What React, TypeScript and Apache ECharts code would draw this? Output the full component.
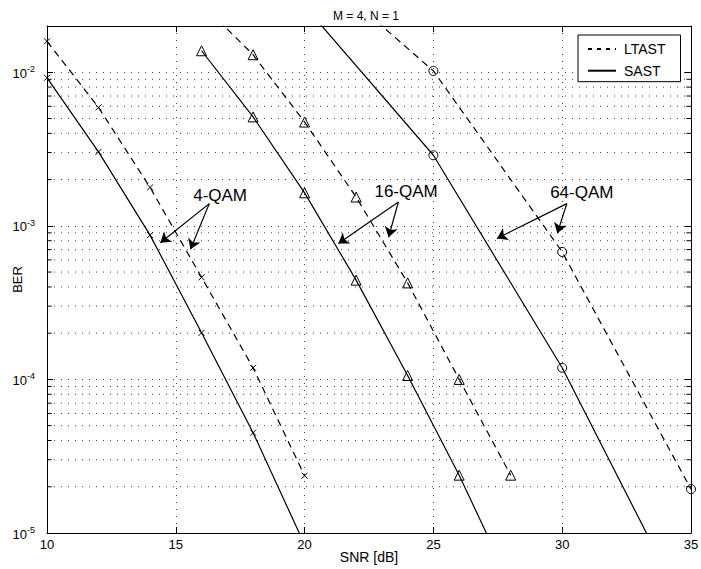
import React, { useEffect, useRef } from "react";
import * as echarts from "echarts";

const FONT = "'Liberation Sans', Arial, Helvetica, sans-serif";

// SNR [dB] grids
const snr4 = [10, 12, 14, 16, 18, 20];
const snr16 = [16, 18, 20, 22, 24, 26, 28];
const snr64 = [20, 25, 30, 35];

// BER values
const ltast4 = [0.0159, 0.0059, 1.78e-3, 4.62e-4, 1.19e-4, 2.36e-5];
const sast4 = [9.2e-3, 3.03e-3, 8.7e-4, 2.01e-4, 4.5e-5, 8.4e-6];
const ltast16 = [0.028, 0.013, 4.74e-3, 1.54e-3, 4.25e-4, 1.0e-4, 2.38e-5];
const sast16 = [0.0138, 5.12e-3, 1.64e-3, 4.43e-4, 1.06e-4, 2.38e-5, 4.6e-6];
const ltast64 = [0.055, 0.0102, 6.76e-4, 1.93e-5];
const sast64 = [0.027, 2.88e-3, 1.19e-4, 2.7e-6];

// axis ranges
const xMin = 10;
const xMax = 35;
const xStep = 5;
const yMin = 1e-5;
const yMax = 0.02;

// minor (2..9 per decade) grid values
const minorValues = [
  2e-5, 3e-5, 4e-5, 5e-5, 6e-5, 7e-5, 8e-5, 9e-5,
  2e-4, 3e-4, 4e-4, 5e-4, 6e-4, 7e-4, 8e-4, 9e-4,
  2e-3, 3e-3, 4e-3, 5e-3, 6e-3, 7e-3, 8e-3, 9e-3,
];

// annotation labels [snr, ber]
const labelNames = ["4-QAM", "16-QAM", "64-QAM"];
const labelPos: [number, number][] = [
  [16.72, 1.585e-3],
  [23.94, 1.667e-3],
  [30.76, 1.64e-3],
];
// arrows: from, to (data coords)
const arrowFrom: [number, number][] = [
  [16.3, 1.395e-3],
  [16.3, 1.395e-3],
  [23.64, 1.43e-3],
  [23.64, 1.43e-3],
  [30.18, 1.395e-3],
  [30.18, 1.395e-3],
];
const arrowTo: [number, number][] = [
  [14.4, 7.76e-4],
  [15.57, 7.03e-4],
  [21.31, 7.66e-4],
  [23.26, 8.43e-4],
  [27.47, 8.28e-4],
  [29.81, 8.95e-4],
];

const DASH = [7, 5];
const DOT = [1, 6];

function zip(xs: number[], ys: number[]) {
  return xs.map((x, i) => [x, ys[i]]);
}

export default function App() {
  const ref = useRef<HTMLDivElement>(null);

  useEffect(() => {
    document.body.style.margin = "0";
    if (!ref.current) return;
    const chart = echarts.init(ref.current, undefined, { renderer: "svg" });

    const xPath = "path://M0,0L10,10M10,0L0,10";
    const openStyle = { color: "none", borderColor: "#000", borderWidth: 1 };

    const curve = (
      name: string,
      data: number[][],
      dashed: boolean,
      symbol: string,
      size: number
    ) => ({
      name,
      type: "line",
      data,
      symbol,
      symbolSize: size,
      showSymbol: true,
      clip: true,
      lineStyle: { color: "#000", width: 1.2, type: dashed ? DASH : "solid" },
      itemStyle: openStyle,
      emphasis: { disabled: true },
      z: 3,
    });

    // minor grid lines (one polyline, broken by empty points)
    const gridData: any[] = [];
    minorValues.forEach((v) => {
      gridData.push([xMin, v], [xMax, v], [null, null]);
    });
    // minor ticks on left and right frame
    const tickLen = 0.18;
    const tickData: any[] = [];
    minorValues.forEach((v) => {
      tickData.push([xMin, v], [xMin + tickLen, v], [null, null]);
      tickData.push([xMax, v], [xMax - tickLen, v], [null, null]);
    });

    const helper = (name: string, data: any[], lineStyle: any) => ({
      name,
      type: "line",
      data,
      symbol: "none",
      silent: true,
      connectNulls: false,
      clip: false,
      lineStyle,
      emphasis: { disabled: true },
      z: 1,
    });

    const s1 = curve("LTAST 4-QAM", zip(snr4, ltast4), true, xPath, 6);
    const s2 = curve("SAST 4-QAM", zip(snr4, sast4), false, xPath, 6);
    const s3: any = curve("LTAST 16-QAM", zip(snr16, ltast16), true, "triangle", 10);
    s3.markLine = {
      silent: true,
      symbol: ["none", "arrow"],
      symbolSize: 10,
      label: { show: false },
      lineStyle: { color: "#000", width: 1.2, type: "solid" },
      itemStyle: { color: "#000" },
      data: arrowFrom.map((f, i) => [{ coord: f }, { coord: arrowTo[i] }]),
    };
    const s4: any = curve("SAST 16-QAM", zip(snr16, sast16), false, "triangle", 10);
    s4.markPoint = {
      silent: true,
      symbol: "circle",
      symbolSize: 0,
      label: {
        show: true,
        position: "inside",
        formatter: "{b}",
        color: "#000",
        fontSize: 17,
        fontFamily: FONT,
      },
      data: labelNames.map((n, i) => ({ name: n, coord: labelPos[i] })),
    };
    const s5 = curve("LTAST 64-QAM", zip(snr64, ltast64), true, "circle", 9);
    const s6 = curve("SAST 64-QAM", zip(snr64, sast64), false, "circle", 9);

    const legendDummy = (name: string, dashed: boolean) => ({
      name,
      type: "line",
      data: [],
      symbol: "none",
      lineStyle: { color: "#000", width: 1, type: dashed ? [4, 5] : "solid" },
      itemStyle: { color: "#000" },
    });

    const tickStyle = { show: true, inside: true, length: 6, lineStyle: { color: "#000" } };
    const lineStyleAx = { show: true, lineStyle: { color: "#000", width: 1 } };

    chart.setOption({
      animation: false,
      backgroundColor: "#fff",
      title: {
        text: "M = 4, N = 1",
        left: 361,
        textAlign: "center",
        top: 5,
        textStyle: { fontSize: 12, fontWeight: "normal", color: "#000", fontFamily: FONT },
      },
      legend: {
        data: ["LTAST", "SAST"],
        orient: "vertical",
        left: 578,
        top: 35,
        padding: [7, 15, 4, 9],
        itemWidth: 28,
        itemHeight: 12,
        itemGap: 7.7,
        borderColor: "#000",
        borderWidth: 1,
        backgroundColor: "#fff",
        selectedMode: false,
        itemStyle: { color: "none", borderColor: "none", borderWidth: 0, opacity: 0 },
        textStyle: { fontSize: 14, color: "#000", fontFamily: FONT, padding: [0, 0, 0, 3] },
      },
      grid: {
        left: 47,
        right: 10,
        top: 26,
        bottom: 36,
        containLabel: false,
        outerBoundsMode: "none",
      },
      xAxis: [
        {
          type: "value",
          min: xMin,
          max: xMax,
          interval: xStep,
          position: "bottom",
          name: "SNR [dB]",
          nameLocation: "middle",
          nameGap: 17,
          nameMoveOverlap: false,
          nameTextStyle: { fontSize: 14, color: "#000", fontFamily: FONT },
          axisLine: lineStyleAx,
          axisTick: tickStyle,
          axisLabel: { fontSize: 13, color: "#000", fontFamily: FONT, margin: 5 },
          splitLine: { show: true, lineStyle: { color: "#444", width: 1, type: DOT } },
        },
        {
          type: "value",
          min: xMin,
          max: xMax,
          interval: xStep,
          position: "top",
          axisLine: lineStyleAx,
          axisTick: tickStyle,
          axisLabel: { show: false },
          splitLine: { show: false },
        },
      ],
      yAxis: [
        {
          type: "log",
          logBase: 10,
          min: yMin,
          max: yMax,
          position: "left",
          name: "BER",
          nameLocation: "middle",
          nameGap: 23,
          nameMoveOverlap: false,
          nameTextStyle: { fontSize: 13, color: "#000", fontFamily: FONT },
          axisLine: lineStyleAx,
          axisTick: tickStyle,
          axisLabel: {
            showMaxLabel: false,
            showMinLabel: true,
            margin: 12,
            formatter: (v: number) => `{b|10}{s|${Math.round(Math.log10(v))}}`,
            rich: {
              b: {
                fontSize: 13,
                lineHeight: 15,
                padding: [6, 0, 0, 0],
                verticalAlign: "bottom",
                color: "#000",
                fontFamily: FONT,
              },
              s: {
                fontSize: 9,
                lineHeight: 10,
                verticalAlign: "top",
                color: "#000",
                fontFamily: FONT,
              },
            },
          },
          splitLine: { show: true, lineStyle: { color: "#444", width: 1, type: DOT } },
        },
        {
          type: "log",
          logBase: 10,
          min: yMin,
          max: yMax,
          position: "right",
          axisLine: lineStyleAx,
          axisTick: tickStyle,
          axisLabel: { show: false },
          splitLine: { show: false },
        },
      ],
      series: [
        helper("minor grid", gridData, { color: "#444", width: 1, type: DOT }),
        helper("minor ticks", tickData, { color: "#000", width: 1, type: "solid" }),
        s1,
        s2,
        s3,
        s4,
        s5,
        s6,
        legendDummy("LTAST", true),
        legendDummy("SAST", false),
      ],
    });

    return () => chart.dispose();
  }, []);

  return <div ref={ref} style={{ width: 701, height: 569 }} />;
}
